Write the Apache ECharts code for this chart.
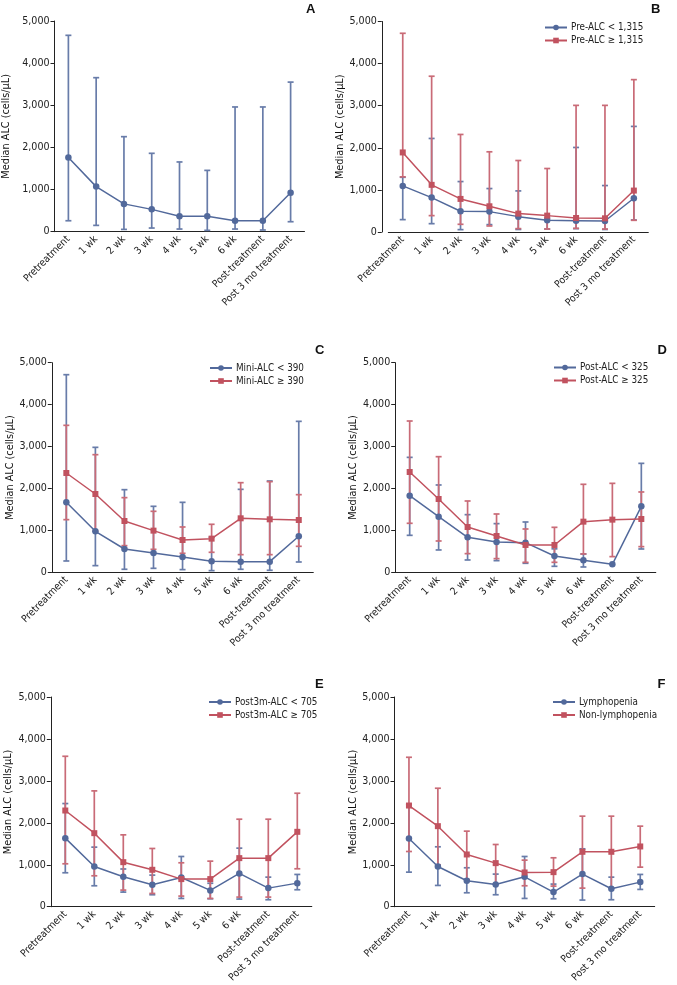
<!DOCTYPE html>
<html>
<head>
<meta charset="utf-8">
<script src="https://cdn.jsdelivr.net/npm/echarts@6/dist/echarts.min.js"></script>
<style>
html,body{margin:0;padding:0;background:#fff;}
#chart{width:677px;height:985px;}
</style>
</head>
<body>
<div id="chart"></div>
<script>
// ---------- DATA ----------
const categories = ['Pretreatment','1 wk','2 wk','3 wk','4 wk','5 wk','6 wk','Post-treatment','Post 3 mo treatment'];
const yTicks = [0, 1000, 2000, 3000, 4000, 5000];
const yAxisTitle = 'Median ALC (cells/μL)';
const panelLetters = ['A','B','C','D','E','F'];

// Panel A (all patients)
const A_name = 'All patients';
const A_med  = [1760, 1070, 660, 530, 365, 365, 262, 262, 925];
const A_low  = [260, 150, 55, 87, 63, 32, 63, 40, 237];
const A_high = [4660, 3655, 2255, 1860, 1655, 1455, 2960, 2960, 3550];

// Panel B
const B_names = ['Pre-ALC < 1,315', 'Pre-ALC ≥ 1,315'];
const B_lo_med  = [1095, 817, 492, 484, 365, 278, 270, 262, 802];
const B_lo_low  = [294, 198, 56, 175, 60, 70, 80, 60, 286];
const B_lo_high = [1300, 2222, 1198, 1032, 976, 330, 2008, 1103, 2508];
const B_hi_med  = [1890, 1120, 786, 611, 437, 389, 333, 325, 984];
const B_hi_low  = [1310, 389, 183, 143, 80, 71, 87, 71, 278];
const B_hi_high = [4720, 3700, 2317, 1905, 1698, 1508, 3008, 3008, 3619];

// Panel C
const C_names = ['Mini-ALC < 390', 'Mini-ALC ≥ 390'];
const C_lo_med  = [1669, 978, 556, 461, 366, 262, 254, 254, 859];
const C_lo_low  = [270, 159, 72, 95, 64, 40, 72, 48, 246];
const C_lo_high = [4714, 2981, 1971, 1574, 1669, 835, 1979, 2178, 3601];
const C_hi_med  = [2369, 1868, 1224, 994, 771, 803, 1288, 1264, 1248];
const C_hi_low  = [1256, 985, 636, 548, 453, 477, 421, 421, 620];
const C_hi_high = [3506, 2806, 1781, 1455, 1081, 1145, 2138, 2162, 1852];

// Panel D
const D_names = ['Post-ALC < 325', 'Post-ALC ≥ 325'];
const D_lo_med  = [1828, 1327, 835, 723, 707, 390, 286, 191, 1574];
const D_lo_low  = [882, 533, 294, 278, 215, 143, 127, null, 556];
const D_lo_high = [2742, 2083, 1375, 1161, 1200, 560, 437, null, 2599];
const D_hi_med  = [2393, 1749, 1081, 866, 652, 652, 1208, 1256, 1272];
const D_hi_low  = [1169, 747, 445, 326, 238, 238, 437, 374, 612];
const D_hi_high = [3609, 2758, 1701, 1391, 1033, 1073, 2099, 2122, 1916];

// Panel E
const E_names = ['Post3m-ALC < 705', 'Post3m-ALC ≥ 705'];
const E_lo_med  = [1635, 960, 714, 524, 698, 389, 794, 444, 563];
const E_lo_low  = [810, 500, 349, 286, 198, 190, 183, 167, 405];
const E_lo_high = [2460, 1421, 900, 754, 1198, 560, 1397, 706, 770];
const E_hi_med  = [2294, 1754, 1063, 881, 659, 659, 1159, 1159, 1786];
const E_hi_low  = [1024, 738, 397, 317, 254, 198, 230, 230, 905];
const E_hi_high = [3587, 2762, 1714, 1389, 1048, 1087, 2087, 2087, 2706];

// Panel F
const F_names = ['Lymphopenia', 'Non-lymphopenia'];
const F_lo_med  = [1627, 960, 619, 532, 714, 349, 778, 429, 587];
const F_lo_low  = [825, 508, 333, 286, 198, 190, 159, 167, 413];
const F_lo_high = [2440, 1429, 929, 778, 1198, 540, 1381, 706, 770];
const F_hi_med  = [2413, 1921, 1246, 1040, 817, 825, 1310, 1310, 1437];
const F_hi_low  = [1317, 1000, 650, 548, 500, 492, 444, 450, 944];
const F_hi_high = [3563, 2825, 1802, 1484, 1111, 1167, 2159, 2159, 1921];

// ---------- STYLE / LAYOUT ----------
const BLUE = '#52699b', BLUE_ERR = '#687ca9';
const RED = '#c1525f', RED_ERR = '#c96b77';
const FONT = '"DejaVu Sans Condensed","Liberation Sans",sans-serif';
const AXIS = '#222';
const TXT = '#222';

const panels = [
  {grid:{left:44.5, top:21, width:260, height:210.7}, yOff:0, nameGap:42.5,
   letter:{left:306, top:3}, legend:null,
   series:[{name:A_name, med:A_med, low:A_low, high:A_high, color:BLUE, err:BLUE_ERR, sym:'circle'}]},
  {grid:{left:388.3, top:21.5, width:260, height:210.5}, yOff:6.5, nameGap:27.5,
   letter:{left:651, top:3}, legend:{left:544, top:21},
   series:[{name:B_names[0], med:B_lo_med, low:B_lo_low, high:B_lo_high, color:BLUE, err:BLUE_ERR, sym:'circle'},
           {name:B_names[1], med:B_hi_med, low:B_hi_low, high:B_hi_high, color:RED, err:RED_ERR, sym:'rect'}]},
  {grid:{left:51.8, top:362.7, width:261.5, height:209.6}, yOff:0, nameGap:34.5,
   letter:{left:315, top:344}, legend:{left:209, top:361.5},
   series:[{name:C_names[0], med:C_lo_med, low:C_lo_low, high:C_lo_high, color:BLUE, err:BLUE_ERR, sym:'circle'},
           {name:C_names[1], med:C_hi_med, low:C_hi_low, high:C_hi_high, color:RED, err:RED_ERR, sym:'rect'}]},
  {grid:{left:395.2, top:362.7, width:260.6, height:209.6}, yOff:0, nameGap:34.5,
   letter:{left:657.5, top:344}, legend:{left:553, top:361},
   series:[{name:D_names[0], med:D_lo_med, low:D_lo_low, high:D_lo_high, color:BLUE, err:BLUE_ERR, sym:'circle'},
           {name:D_names[1], med:D_hi_med, low:D_hi_low, high:D_hi_high, color:RED, err:RED_ERR, sym:'rect'}]},
  {grid:{left:50.8, top:697, width:261, height:210}, yOff:0, nameGap:37,
   letter:{left:315, top:678}, legend:{left:208, top:695.5},
   series:[{name:E_names[0], med:E_lo_med, low:E_lo_low, high:E_lo_high, color:BLUE, err:BLUE_ERR, sym:'circle'},
           {name:E_names[1], med:E_hi_med, low:E_hi_low, high:E_hi_high, color:RED, err:RED_ERR, sym:'rect'}]},
  {grid:{left:394.5, top:697, width:260.2, height:210}, yOff:0, nameGap:34.5,
   letter:{left:657.5, top:678}, legend:{left:552, top:695.5},
   series:[{name:F_names[0], med:F_lo_med, low:F_lo_low, high:F_lo_high, color:BLUE, err:BLUE_ERR, sym:'circle'},
           {name:F_names[1], med:F_hi_med, low:F_hi_low, high:F_hi_high, color:RED, err:RED_ERR, sym:'rect'}]}
];

function makeErrRender(color) {
  return function (params, api) {
    const x = api.value(0), lo = api.value(1), hi = api.value(2);
    if (isNaN(lo) || isNaN(hi)) return null;
    const a = api.coord([x, lo]), b = api.coord([x, hi]);
    const hw = 3;
    const st = {stroke: color, lineWidth: 1.7, fill: null};
    return {type: 'group', children: [
      {type: 'line', shape: {x1: a[0], y1: a[1], x2: b[0], y2: b[1]}, style: st},
      {type: 'line', shape: {x1: a[0]-hw, y1: a[1], x2: a[0]+hw, y2: a[1]}, style: st},
      {type: 'line', shape: {x1: b[0]-hw, y1: b[1], x2: b[0]+hw, y2: b[1]}, style: st}
    ]};
  };
}

const option = {
  animation: false,
  backgroundColor: '#fff',
  title: [], grid: [], xAxis: [], yAxis: [], legend: [], series: []
};

panels.forEach(function (p, i) {
  option.title.push({text: panelLetters[i], left: p.letter.left, top: p.letter.top, padding: 0,
    textStyle: {fontFamily: '"Liberation Sans",sans-serif', fontWeight: 'bold', fontSize: 13, color: '#111'}});
  option.grid.push(Object.assign({containLabel: false}, p.grid));
  option.xAxis.push({
    type: 'category', gridIndex: i, data: categories, boundaryGap: true,
    axisLine: {lineStyle: {color: AXIS, width: 1}},
    axisTick: {alignWithLabel: true, length: 4, lineStyle: {color: AXIS}},
    axisLabel: {interval: 0, rotate: 45, margin: 6, fontSize: 10.2, color: TXT, fontFamily: FONT},
    splitLine: {show: false}
  });
  option.yAxis.push({
    type: 'value', gridIndex: i, min: 0, max: yTicks[yTicks.length-1], interval: yTicks[1]-yTicks[0],
    offset: p.yOff,
    name: yAxisTitle, nameLocation: 'middle', nameGap: p.nameGap, nameRotate: 90,
    nameTextStyle: {fontSize: 10.8, color: '#111', fontFamily: FONT},
    axisLine: {show: true, lineStyle: {color: AXIS, width: 1}},
    axisTick: {show: true, length: 4, lineStyle: {color: AXIS}},
    axisLabel: {fontSize: 10.6, color: TXT, margin: 5, fontFamily: FONT,
      formatter: function (v) { return v.toLocaleString('en-US'); }},
    splitLine: {show: false}
  });
  if (p.legend) {
    option.legend.push({
      show: true, orient: 'vertical', left: p.legend.left, top: p.legend.top, padding: 0,
      itemWidth: 22, itemHeight: 7, itemGap: 0,
      data: p.series.map(function (s) { return s.name; }),
      textStyle: {fontSize: 9.8, color: TXT, fontFamily: FONT, lineHeight: 13, padding: [0,0,0,-1]}
    });
  }
  p.series.forEach(function (s) {
    option.series.push({
      type: 'custom', name: s.name + ' range', xAxisIndex: i, yAxisIndex: i, z: 1,
      renderItem: makeErrRender(s.err), silent: true,
      encode: {x: 0, y: [1, 2]},
      data: s.med.map(function (_, k) { return [k, s.low[k], s.high[k]]; })
    });
  });
  p.series.forEach(function (s) {
    option.series.push({
      type: 'line', name: s.name, xAxisIndex: i, yAxisIndex: i, z: 3,
      data: s.med, symbol: s.sym, symbolSize: s.sym === 'rect' ? 6 : 6.5, showSymbol: true,
      itemStyle: {color: s.color}, lineStyle: {color: s.color, width: 1.5},
      emphasis: {disabled: true}
    });
  });
});

const chart = echarts.init(document.getElementById('chart'), null, {renderer: 'canvas'});
chart.setOption(option);
</script>
</body>
</html>
